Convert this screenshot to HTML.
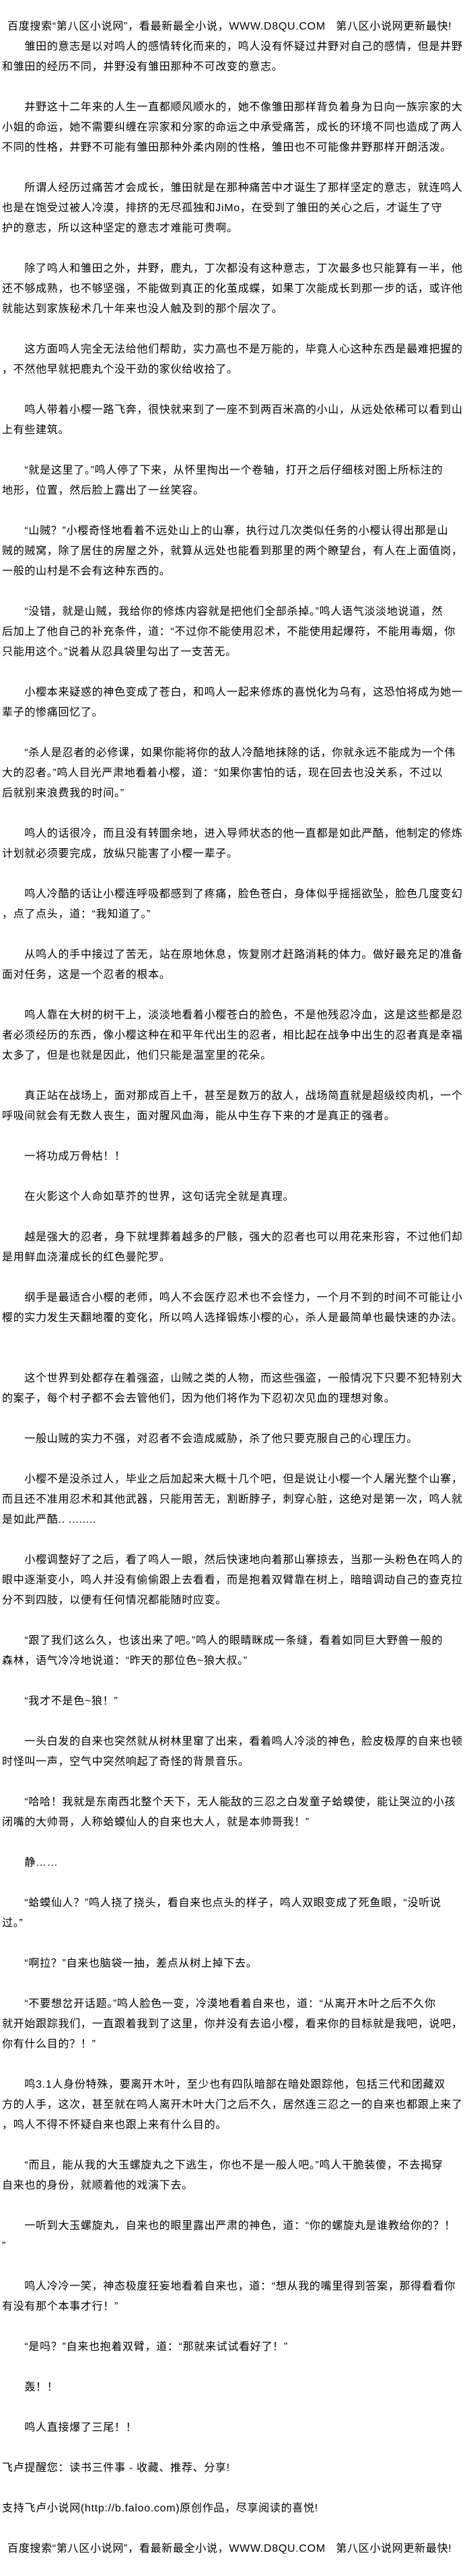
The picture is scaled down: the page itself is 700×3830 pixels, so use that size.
<!DOCTYPE html>
<html><head><meta charset="utf-8">
<style>
html,body{margin:0;padding:0;background:#fff;}
body{width:700px;height:3830px;overflow:hidden;font-family:"Liberation Sans","Noto Sans CJK SC","WenQuanYi Zen Hei",sans-serif;font-size:16px;letter-spacing:0.7px;color:#000;}
#w{padding-top:25px;padding-left:3px;}
.l{height:30px;line-height:30px;white-space:nowrap;}
.h{padding-left:8px;}
</style></head><body><div id="w">
<div class="l h">百度搜索“第八区小说网”，看最新最全小说，WWW.D8QU.COM&nbsp;&nbsp;&nbsp;第八区小说网更新最快!</div>
<div class="l">　　雏田的意志是以对鸣人的感情转化而来的，鸣人没有怀疑过井野对自己的感情，但是井野</div>
<div class="l">和雏田的经历不同，井野没有雏田那种不可改变的意志。</div>
<div class="l"></div>
<div class="l">　　井野这十二年来的人生一直都顺风顺水的，她不像雏田那样背负着身为日向一族宗家的大</div>
<div class="l">小姐的命运，她不需要纠缠在宗家和分家的命运之中承受痛苦，成长的环境不同也造成了两人</div>
<div class="l">不同的性格，井野不可能有雏田那种外柔内刚的性格，雏田也不可能像井野那样开朗活泼。</div>
<div class="l"></div>
<div class="l">　　所谓人经历过痛苦才会成长，雏田就是在那种痛苦中才诞生了那样坚定的意志，就连鸣人</div>
<div class="l">也是在饱受过被人冷漠，排挤的无尽孤独和JiMo，在受到了雏田的关心之后，才诞生了守</div>
<div class="l">护的意志，所以这种坚定的意志才难能可贵啊。</div>
<div class="l"></div>
<div class="l">　　除了鸣人和雏田之外，井野，鹿丸，丁次都没有这种意志，丁次最多也只能算有一半，他</div>
<div class="l">还不够成熟，也不够坚强，不能做到真正的化茧成蝶，如果丁次能成长到那一步的话，或许他</div>
<div class="l">就能达到家族秘术几十年来也没人触及到的那个层次了。</div>
<div class="l"></div>
<div class="l">　　这方面鸣人完全无法给他们帮助，实力高也不是万能的，毕竟人心这种东西是最难把握的</div>
<div class="l">，不然他早就把鹿丸个没干劲的家伙给收拾了。</div>
<div class="l"></div>
<div class="l">　　鸣人带着小樱一路飞奔，很快就来到了一座不到两百米高的小山，从远处依稀可以看到山</div>
<div class="l">上有些建筑。</div>
<div class="l"></div>
<div class="l">　　“就是这里了。”鸣人停了下来，从怀里掏出一个卷轴，打开之后仔细核对图上所标注的</div>
<div class="l">地形，位置，然后脸上露出了一丝笑容。</div>
<div class="l"></div>
<div class="l">　　“山贼？”小樱奇怪地看着不远处山上的山寨，执行过几次类似任务的小樱认得出那是山</div>
<div class="l">贼的贼窝，除了居住的房屋之外，就算从远处也能看到那里的两个瞭望台，有人在上面值岗，</div>
<div class="l">一般的山村是不会有这种东西的。</div>
<div class="l"></div>
<div class="l">　　“没错，就是山贼，我给你的修炼内容就是把他们全部杀掉。”鸣人语气淡淡地说道，然</div>
<div class="l">后加上了他自己的补充条件，道：“不过你不能使用忍术，不能使用起爆符，不能用毒烟，你</div>
<div class="l">只能用这个。”说着从忍具袋里勾出了一支苦无。</div>
<div class="l"></div>
<div class="l">　　小樱本来疑惑的神色变成了苍白，和鸣人一起来修炼的喜悦化为乌有，这恐怕将成为她一</div>
<div class="l">辈子的惨痛回忆了。</div>
<div class="l"></div>
<div class="l">　　“杀人是忍者的必修课，如果你能将你的敌人冷酷地抹除的话，你就永远不能成为一个伟</div>
<div class="l">大的忍者。”鸣人目光严肃地看着小樱，道：“如果你害怕的话，现在回去也没关系，不过以</div>
<div class="l">后就别来浪费我的时间。”</div>
<div class="l"></div>
<div class="l">　　鸣人的话很冷，而且没有转圜余地，进入导师状态的他一直都是如此严酷，他制定的修炼</div>
<div class="l">计划就必须要完成，放纵只能害了小樱一辈子。</div>
<div class="l"></div>
<div class="l">　　鸣人冷酷的话让小樱连呼吸都感到了疼痛，脸色苍白，身体似乎摇摇欲坠，脸色几度变幻</div>
<div class="l">，点了点头，道：“我知道了。”</div>
<div class="l"></div>
<div class="l">　　从鸣人的手中接过了苦无，站在原地休息，恢复刚才赶路消耗的体力。做好最充足的准备</div>
<div class="l">面对任务，这是一个忍者的根本。</div>
<div class="l"></div>
<div class="l">　　鸣人靠在大树的树干上，淡淡地看着小樱苍白的脸色，不是他残忍冷血，这是这些都是忍</div>
<div class="l">者必须经历的东西，像小樱这种在和平年代出生的忍者，相比起在战争中出生的忍者真是幸福</div>
<div class="l">太多了，但是也就是因此，他们只能是温室里的花朵。</div>
<div class="l"></div>
<div class="l">　　真正站在战场上，面对那成百上千，甚至是数万的敌人，战场简直就是超级绞肉机，一个</div>
<div class="l">呼吸间就会有无数人丧生，面对腥风血海，能从中生存下来的才是真正的强者。</div>
<div class="l"></div>
<div class="l">　　一将功成万骨枯！！</div>
<div class="l"></div>
<div class="l">　　在火影这个人命如草芥的世界，这句话完全就是真理。</div>
<div class="l"></div>
<div class="l">　　越是强大的忍者，身下就埋葬着越多的尸骸，强大的忍者也可以用花来形容，不过他们却</div>
<div class="l">是用鲜血浇灌成长的红色曼陀罗。</div>
<div class="l"></div>
<div class="l">　　纲手是最适合小樱的老师，鸣人不会医疗忍术也不会怪力，一个月不到的时间不可能让小</div>
<div class="l">樱的实力发生天翻地覆的变化，所以鸣人选择锻炼小樱的心，杀人是最简单也最快速的办法。</div>
<div class="l"></div>
<div class="l"></div>
<div class="l">　　这个世界到处都存在着强盗，山贼之类的人物，而这些强盗，一般情况下只要不犯特别大</div>
<div class="l">的案子，每个村子都不会去管他们，因为他们将作为下忍初次见血的理想对象。</div>
<div class="l"></div>
<div class="l">　　一般山贼的实力不强，对忍者不会造成威胁，杀了他只要克服自己的心理压力。</div>
<div class="l"></div>
<div class="l">　　小樱不是没杀过人，毕业之后加起来大概十几个吧，但是说让小樱一个人屠光整个山寨，</div>
<div class="l">而且还不准用忍术和其他武器，只能用苦无，割断脖子，刺穿心脏，这绝对是第一次，鸣人就</div>
<div class="l">是如此严酷.. ........</div>
<div class="l"></div>
<div class="l">　　小樱调整好了之后，看了鸣人一眼，然后快速地向着那山寨掠去，当那一头粉色在鸣人的</div>
<div class="l">眼中逐渐变小，鸣人并没有偷偷跟上去看看，而是抱着双臂靠在树上，暗暗调动自己的查克拉</div>
<div class="l">分不到四肢，以便有任何情况都能随时应变。</div>
<div class="l"></div>
<div class="l">　　“跟了我们这么久，也该出来了吧。”鸣人的眼睛眯成一条缝，看着如同巨大野兽一般的</div>
<div class="l">森林，语气冷冷地说道：“昨天的那位色~狼大叔。”</div>
<div class="l"></div>
<div class="l">　　“我才不是色~狼！”</div>
<div class="l"></div>
<div class="l">　　一头白发的自来也突然就从树林里窜了出来，看着鸣人冷淡的神色，脸皮极厚的自来也顿</div>
<div class="l">时怪叫一声，空气中突然响起了奇怪的背景音乐。</div>
<div class="l"></div>
<div class="l">　　“哈哈！我就是东南西北整个天下，无人能敌的三忍之白发童子蛤蟆使，能让哭泣的小孩</div>
<div class="l">闭嘴的大帅哥，人称蛤蟆仙人的自来也大人，就是本帅哥我！”</div>
<div class="l"></div>
<div class="l">　　静……</div>
<div class="l"></div>
<div class="l">　　“蛤蟆仙人？”鸣人挠了挠头，看自来也点头的样子，鸣人双眼变成了死鱼眼，“没听说</div>
<div class="l">过。”</div>
<div class="l"></div>
<div class="l">　　“啊拉？”自来也脑袋一抽，差点从树上掉下去。</div>
<div class="l"></div>
<div class="l">　　“不要想岔开话题。”鸣人脸色一变，冷漠地看着自来也，道：“从离开木叶之后不久你</div>
<div class="l">就开始跟踪我们，一直跟着我到了这里，你并没有去追小樱，看来你的目标就是我吧，说吧，</div>
<div class="l">你有什么目的？！”</div>
<div class="l"></div>
<div class="l">　　鸣3.1人身份特殊，要离开木叶，至少也有四队暗部在暗处跟踪他，包括三代和团藏双</div>
<div class="l">方的人手，这次，甚至就在鸣人离开木叶大门之后不久，居然连三忍之一的自来也都跟上来了</div>
<div class="l">，鸣人不得不怀疑自来也跟上来有什么目的。</div>
<div class="l"></div>
<div class="l">　　“而且，能从我的大玉螺旋丸之下逃生，你也不是一般人吧。”鸣人干脆装傻，不去揭穿</div>
<div class="l">自来也的身份，就顺着他的戏演下去。</div>
<div class="l"></div>
<div class="l">　　一听到大玉螺旋丸，自来也的眼里露出严肃的神色，道：“你的螺旋丸是谁教给你的？！</div>
<div class="l">”</div>
<div class="l"></div>
<div class="l">　　鸣人冷冷一笑，神态极度狂妄地看着自来也，道：“想从我的嘴里得到答案，那得看看你</div>
<div class="l">有没有那个本事才行！”</div>
<div class="l"></div>
<div class="l">　　“是吗？”自来也抱着双臂，道：“那就来试试看好了！”</div>
<div class="l"></div>
<div class="l">　　轰！！</div>
<div class="l"></div>
<div class="l">　　鸣人直接爆了三尾！！</div>
<div class="l"></div>
<div class="l">飞卢提醒您：读书三件事 - 收藏、推荐、分享!</div>
<div class="l"></div>
<div class="l">支持飞卢小说网(http://b.faloo.com)原创作品，尽享阅读的喜悦!</div>
<div class="l"></div>
<div class="l h">百度搜索“第八区小说网”，看最新最全小说，WWW.D8QU.COM&nbsp;&nbsp;&nbsp;第八区小说网更新最快!</div>
</div></body></html>
